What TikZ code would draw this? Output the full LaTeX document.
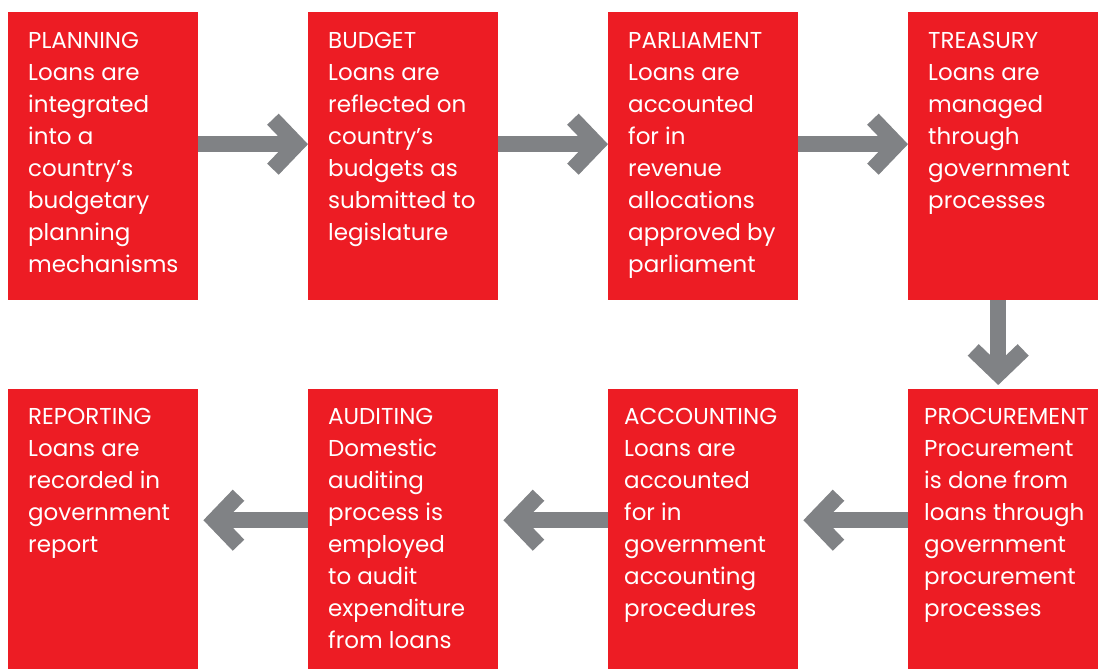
\documentclass[tikz,border=0pt]{standalone}
\usepackage{fontspec}
\setmainfont{Poppins}
\usetikzlibrary{positioning}
\usetikzlibrary{arrows.meta}
\definecolor{stagered}{HTML}{ED1C24}
\definecolor{flowgray}{HTML}{808285}

\begin{document}
\begin{tikzpicture}[x=1pt,y=-1pt,
        stagebox/.style={fill=stagered,minimum width=190pt,minimum height=288pt,anchor=north west,inner sep=0},
        stagetext/.style={anchor=north west,align=left,inner sep=0,text=white,font=\fontsize{23}{32}\selectfont},
        flow/.style={draw=flowgray,line width=16pt,-{Straight Barb[length=24pt,width=50pt,line cap=butt,line join=miter]}}]
        \useasboundingbox (0,0) rectangle (1099,669);
        % top row
        \node[stagebox] (plan) at (8,12) {};
        \node[stagebox] (budg) at (308,12) {};
        \node[stagebox] (parl) at (608,12) {};
        \node[stagebox] (treas) at (908,12) {};
        % bottom row
        \node[stagebox,minimum height=280pt] (rep) at (8,389) {};
        \node[stagebox,minimum height=280pt] (aud) at (308,389) {};
        \node[stagebox,minimum height=280pt] (acct) at (608,389) {};
        \node[stagebox,minimum height=280pt] (proc) at (908,389) {};
        % texts
        \node[stagetext] (plan-t) at ([xshift=20pt,yshift=-20pt]plan.north west) {PLANNING\\Loans are\\integrated\\into a\\country’s\\budgetary\\planning\\mechanisms};
        \node[stagetext] (budg-t) at ([xshift=20pt,yshift=-20pt]budg.north west) {BUDGET\\Loans are\\reflected on\\country’s\\budgets as\\submitted to\\legislature};
        \node[stagetext] (parl-t) at ([xshift=20pt,yshift=-20pt]parl.north west) {PARLIAMENT\\Loans are\\accounted\\for in\\revenue\\allocations\\approved by\\parliament};
        \node[stagetext] (treas-t) at ([xshift=20pt,yshift=-20pt]treas.north west) {TREASURY\\Loans are\\managed\\through\\government\\processes};
        \node[stagetext] (rep-t) at ([xshift=20pt,yshift=-19pt]rep.north west) {REPORTING\\Loans are\\recorded in\\government\\report};
        \node[stagetext] (aud-t) at ([xshift=20pt,yshift=-19pt]aud.north west) {AUDITING\\Domestic\\auditing\\process is\\employed\\to audit\\expenditure\\from loans};
        \node[stagetext] (acct-t) at ([xshift=16pt,yshift=-19pt]acct.north west) {ACCOUNTING\\Loans are\\accounted\\for in\\government\\accounting\\procedures};
        \node[stagetext] (proc-t) at ([xshift=16pt,yshift=-19pt]proc.north west) {PROCUREMENT\\Procurement\\is done from\\loans through\\government\\procurement\\processes};
        % arrows
        \draw[flow] ([yshift=12pt]plan.east) -- ([yshift=12pt]budg.west);
        \draw[flow] ([yshift=12pt]budg.east) -- ([yshift=12pt]parl.west);
        \draw[flow] ([yshift=12pt]parl.east) -- ([yshift=12pt]treas.west);
        \draw[flow] ([xshift=-5pt]treas.south) -- ([xshift=-5pt,yshift=4pt]proc.north);
        \draw[flow] ([yshift=9pt]proc.west) -- ([xshift=5pt,yshift=9pt]acct.east);
        \draw[flow] ([yshift=9pt]acct.west) -- ([xshift=5pt,yshift=9pt]aud.east);
        \draw[flow] ([yshift=9pt]aud.west) -- ([xshift=5pt,yshift=9pt]rep.east);
\end{tikzpicture}
\end{document}
